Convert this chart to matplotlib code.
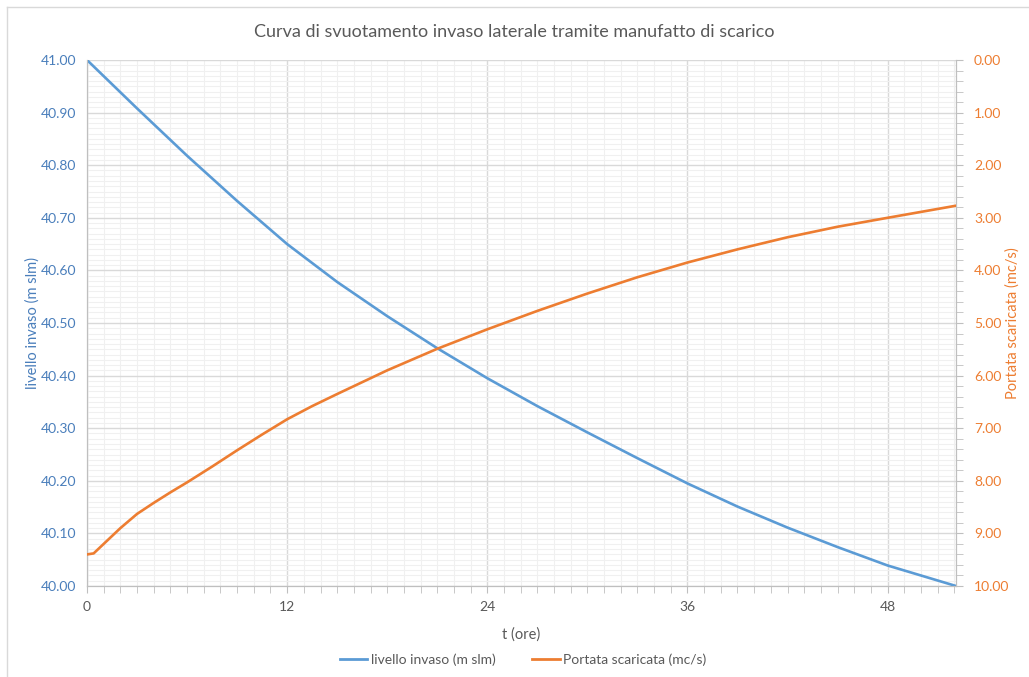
import matplotlib.pyplot as plt
from matplotlib.ticker import MultipleLocator, FormatStrFormatter
from matplotlib.lines import Line2D

plt.rcParams['font.family'] = ['Lato', 'DejaVu Sans']

# tempo (ore)
t_ore = [0, 3, 6, 9, 12, 15, 18, 21, 24, 27, 30, 33, 36, 39, 42, 45, 48, 52.1]
# livello invaso (m slm)
livello = [41.00, 40.908, 40.818, 40.732, 40.650, 40.578, 40.513, 40.452, 40.395,
           40.342, 40.292, 40.243, 40.195, 40.151, 40.111, 40.074, 40.039, 40.00]
# portata scaricata (mc/s)
t_portata = [0, 0.4, 1, 2, 3, 4, 5, 6, 7.5, 9, 10.5, 12, 13.5, 15, 18, 21, 24, 27, 30,
             33, 36, 39, 42, 45, 48, 52.1]
portata = [9.40, 9.38, 9.20, 8.90, 8.63, 8.42, 8.22, 8.03, 7.73, 7.42, 7.12, 6.83, 6.58,
           6.35, 5.90, 5.49, 5.12, 4.77, 4.44, 4.13, 3.85, 3.60, 3.37, 3.17, 3.00, 2.77]

blu = '#5B9BD5'
arancio = '#ED7D31'
blu_txt = '#4A7EBB'
grigio = '#595959'

fig = plt.figure(figsize=(10.29, 6.77), dpi=100)
W, H = 1029, 677
ax = fig.add_axes([87 / W, 1 - 586 / H, (956 - 87) / W, (586 - 60) / H])
ax2 = ax.twinx()

# chart border (Excel style)
fig.add_artist(Line2D([7 / W, 7 / W], [0, 1 - 7 / H], color='#D9D9D9', lw=1))
fig.add_artist(Line2D([7 / W, 1], [1 - 7 / H, 1 - 7 / H], color='#D9D9D9', lw=1))

ax.plot(t_ore, livello, color=blu, lw=1.9, zorder=3)
ax2.plot(t_portata, portata, color=arancio, lw=1.9, zorder=3)

ax.set_xlim(0, 52.1)
ax.set_ylim(40.0, 41.0)
ax2.set_ylim(10, 0)

ax.xaxis.set_major_locator(MultipleLocator(12))
ax.xaxis.set_minor_locator(MultipleLocator(1))
ax.yaxis.set_major_locator(MultipleLocator(0.1))
ax.yaxis.set_minor_locator(MultipleLocator(0.01))
ax.yaxis.set_major_formatter(FormatStrFormatter('%.2f'))
ax2.yaxis.set_major_locator(MultipleLocator(1))
ax2.yaxis.set_minor_locator(MultipleLocator(0.2))
ax2.yaxis.set_major_formatter(FormatStrFormatter('%.2f'))

ax.grid(which='major', color='#D9D9D9', lw=1)
ax.grid(which='minor', color='#F0F0F0', lw=0.8)
ax.set_axisbelow(True)

for a in (ax, ax2):
    a.spines['top'].set_visible(False)
    for s in ('left', 'right', 'bottom'):
        a.spines[s].set_color('#BFBFBF')

ax.tick_params(axis='x', which='major', length=5, color='#BFBFBF', labelsize=10, labelcolor=grigio, pad=6)
ax.tick_params(axis='x', which='minor', length=5, color='#BFBFBF')
ax.tick_params(axis='y', which='both', length=0, labelsize=10, labelcolor=blu_txt, pad=8)
ax2.tick_params(axis='y', which='major', length=5, color='#BFBFBF', labelsize=10, labelcolor=arancio, pad=8)
ax2.tick_params(axis='y', which='minor', length=5, color='#BFBFBF')

ax.set_xlabel('t (ore)', fontsize=10.5, color=grigio, labelpad=10)
fig.text(33 / W, 1 - 323 / H, 'livello invaso (m slm)', rotation=90, ha='center', va='center',
         fontsize=10.5, color=blu_txt)
fig.text(1013 / W, 1 - 323 / H, 'Portata scaricata (mc/s)', rotation=90, ha='center', va='center',
         fontsize=10.5, color=arancio)

fig.text(0.5, 1 - 32 / H, 'Curva di svuotamento invaso laterale tramite manufatto di scarico',
         ha='center', va='center', fontsize=13, color=grigio)

handles = [Line2D([0], [0], color=blu, lw=2), Line2D([0], [0], color=arancio, lw=2)]
fig.legend(handles, ['livello invaso (m slm)', 'Portata scaricata (mc/s)'], loc='center',
           bbox_to_anchor=(523 / W, 1 - 660 / H), ncol=2, frameon=False, fontsize=10,
           labelcolor=grigio, handlelength=2.0, columnspacing=2.6, handletextpad=0.25)

fig.savefig('out.png', dpi=100)
